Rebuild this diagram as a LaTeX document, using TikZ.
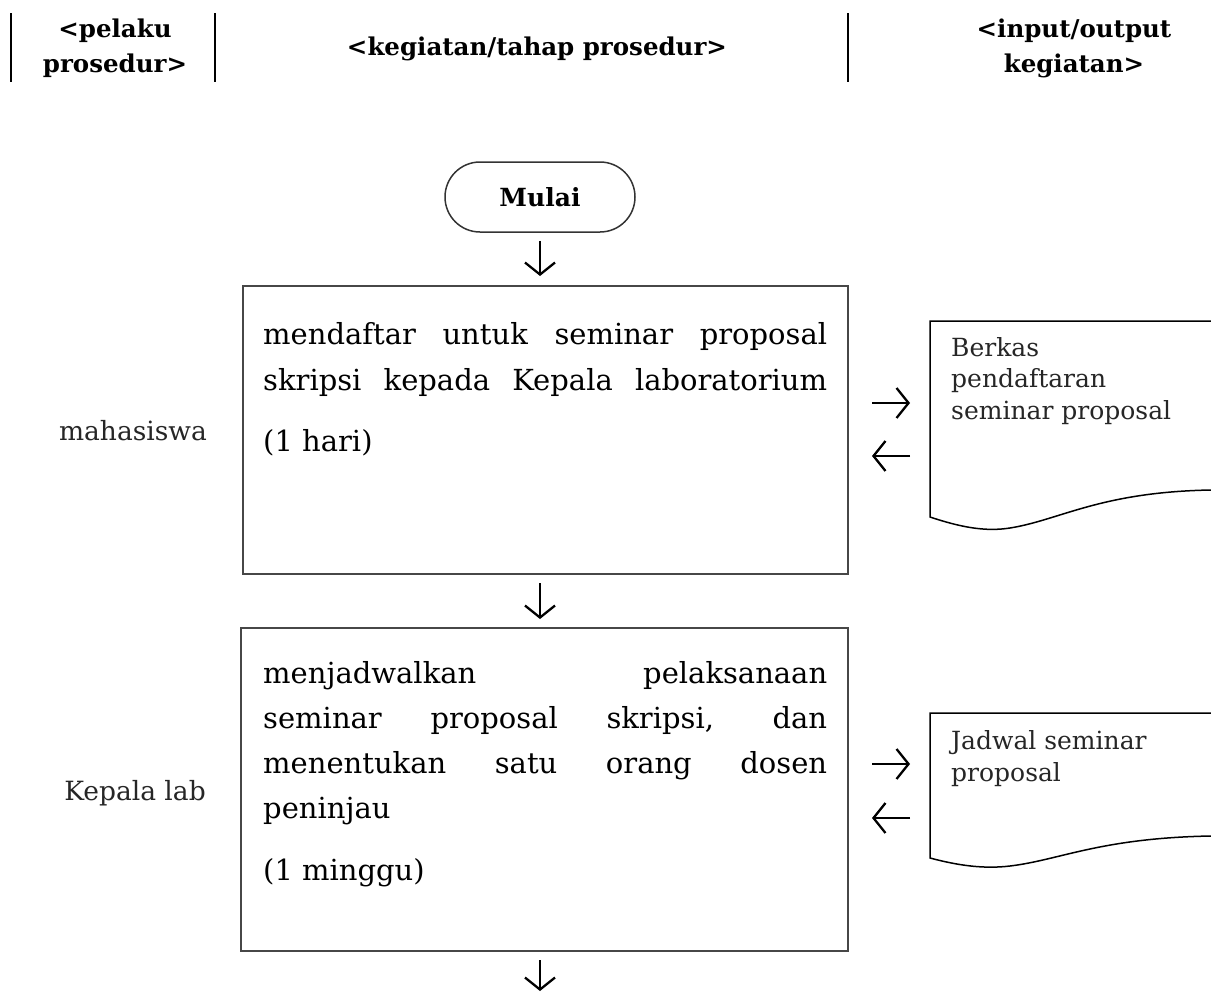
\documentclass[tikz,border=0pt]{standalone}
\usepackage{fontspec}
\setmainfont{DejaVu Serif}
\usetikzlibrary{arrows.meta,shapes.misc}
\begin{document}
\begin{tikzpicture}[x=1pt,y=-1pt,
  hdr/.style={font=\bfseries\fontsize{24.5}{35}\selectfont, align=center, inner sep=0pt},
  sep/.style={draw=black, line width=1.5pt},
  stepbox/.style={draw=black!72, line width=2pt, rectangle, inner sep=0pt, anchor=north west},
  startnode/.style={draw=black!80, line width=1.5pt, rounded rectangle, minimum width=190pt, minimum height=70pt, inner sep=0pt, font=\bfseries\fontsize{25}{30}\selectfont},
  body/.style={font=\fontsize{29}{45}\selectfont, inner sep=0pt, anchor=base west},
  actor/.style={font=\fontsize{26.5}{30}\selectfont, inner sep=0pt, anchor=base, text=black!85},
  doctext/.style={font=\fontsize{25}{31.5}\selectfont, inner sep=0pt, anchor=base west, align=left, text=black!85},
  docshape/.style={draw=black, line width=1.5pt},
  arr/.style={-{Straight Barb[length=12pt,width=30pt]}, line width=2.3pt, black},
]
\useasboundingbox (0,0) rectangle (1211,993);

% header
\draw[sep] (11,13) -- (11,82);
\draw[sep] (215,13) -- (215,82);
\draw[sep] (848,13) -- (848,82);
\node[hdr, anchor=base] (h1) at (115,72) {<pelaku\\prosedur>};
\node[hdr, anchor=base] (h2) at (537,55) {<kegiatan/tahap prosedur>};
\node[hdr, anchor=base] (h3) at (1074,72) {<input/output\\kegiatan>};

% start
\node[startnode] (mulai) at (540,197) {Mulai};

% boxes
\node[stepbox, minimum width=605pt, minimum height=288pt] (box1) at (242,285) {};
\node[stepbox, minimum width=607pt, minimum height=323pt] (box2) at (240,627) {};

% box 1 text
\node[body] (b1a) at (263,344) {\makebox[564pt][s]{mendaftar untuk seminar proposal}};
\node[body] (b1b) at (263,390) {\makebox[564pt][s]{skripsi kepada Kepala laboratorium}};
\node[body] (b1c) at (263,451) {(1 hari)};

% box 2 text
\node[body] (b2a) at (263,683) {\makebox[564pt][s]{menjadwalkan pelaksanaan}};
\node[body] (b2b) at (263,728) {\makebox[564pt][s]{seminar proposal skripsi, dan}};
\node[body] (b2c) at (263,773) {\makebox[564pt][s]{menentukan satu orang dosen}};
\node[body] (b2d) at (263,818) {peninjau};
\node[body] (b2e) at (263,880) {(1 minggu)};

% actors
\node[actor] (act1) at (133,440) {mahasiswa};
\node[actor] (act2) at (135,800) {Kepala lab};

% documents
\node[inner sep=0pt, anchor=north west, minimum width=281pt, minimum height=196pt] (doc1) at (930,321) {};
\draw[docshape] (1211,321) -- (930,321) -- (930,517)
  .. controls (960,527) and (985,532) .. (1010,528)
  .. controls (1060,520) and (1100,492) .. (1211,490);
\node[doctext] (d1t) at (951,419) {Berkas\\pendaftaran\\seminar proposal};

\node[inner sep=0pt, anchor=north west, minimum width=281pt, minimum height=145pt] (doc2) at (930,713) {};
\draw[docshape] (1211,713) -- (930,713) -- (930,858)
  .. controls (960,866) and (985,869) .. (1010,866)
  .. controls (1060,860) and (1100,838) .. (1211,836);
\node[doctext] (d2t) at (951,781) {Jadwal seminar\\proposal};

% vertical flow arrows
\coordinate (flowend) at (540,991);
\draw[arr, shorten <=8pt, shorten >=9pt] (mulai.south) -- (mulai.south |- box1.north);
\draw[arr, shorten <=8pt, shorten >=8pt] (mulai.south |- box1.south) -- (mulai.south |- box2.north);
\draw[arr, shorten <=8pt] (mulai.south |- box2.south) -- (flowend);

% horizontal arrows
\coordinate (r1) at (0,403);
\coordinate (l1) at (0,456);
\coordinate (r2) at (0,764);
\coordinate (l2) at (0,818);
\draw[arr, shorten <=23pt, shorten >=20pt] (box1.east |- r1) -- (doc1.west |- r1);
\draw[arr, shorten <=20pt, shorten >=23pt] (doc1.west |- l1) -- (box1.east |- l1);
\draw[arr, shorten <=23pt, shorten >=20pt] (box2.east |- r2) -- (doc2.west |- r2);
\draw[arr, shorten <=20pt, shorten >=23pt] (doc2.west |- l2) -- (box2.east |- l2);
\end{tikzpicture}
\end{document}
